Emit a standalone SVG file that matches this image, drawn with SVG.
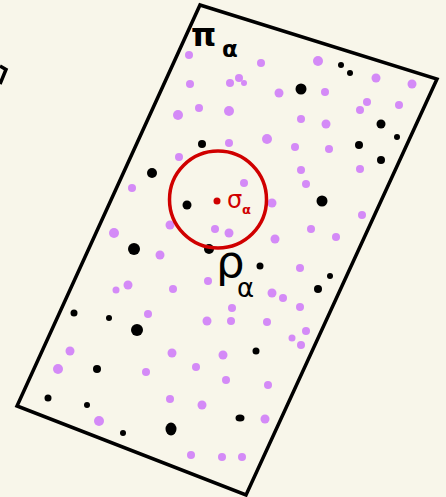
<svg xmlns="http://www.w3.org/2000/svg" width="446" height="497" viewBox="0 0 446 497">
<style>
.p{fill:#d48af7}
.b{fill:#000}
.edge{fill:none;stroke:#000;stroke-width:3.5;stroke-linejoin:miter}
.lbl{font-family:"DejaVu Sans",sans-serif;fill:#000}
.red{fill:#d00000}
</style>
<rect width="446" height="497" fill="#f8f6ea"/>
<g id="plane-other">
<polyline class="edge" points="0,66 6,69.5 0,84"/>
</g>
<g id="plane-pi">
<polygon class="edge" points="200,5 437,79 246,495 17,406"/>
<text class="lbl" x="191" y="46" font-size="32" font-weight="bold">π</text>
<text class="lbl" x="222" y="57" font-size="23" font-weight="bold">α</text>
</g>
<g id="purple-points">
<circle class="p" cx="189" cy="55" r="4"/>
<circle class="p" cx="190" cy="84" r="4"/>
<circle class="p" cx="199" cy="108" r="4"/>
<circle class="p" cx="178" cy="115" r="5"/>
<circle class="p" cx="179" cy="157" r="4"/>
<circle class="p" cx="261" cy="63" r="4"/>
<circle class="p" cx="318" cy="61" r="5"/>
<circle class="p" cx="376" cy="78" r="4.5"/>
<circle class="p" cx="412" cy="84" r="4.5"/>
<circle class="p" cx="230" cy="83" r="4"/>
<circle class="p" cx="239" cy="78" r="4"/>
<circle class="p" cx="244" cy="83" r="3"/>
<circle class="p" cx="279" cy="93" r="4.5"/>
<circle class="p" cx="325" cy="92" r="4"/>
<circle class="p" cx="367" cy="102" r="4"/>
<circle class="p" cx="360" cy="110" r="4"/>
<circle class="p" cx="399" cy="105" r="4"/>
<circle class="p" cx="229" cy="111" r="5"/>
<circle class="p" cx="301" cy="119" r="4"/>
<circle class="p" cx="326" cy="124" r="4.5"/>
<circle class="p" cx="229" cy="143" r="4"/>
<circle class="p" cx="267" cy="139" r="5"/>
<circle class="p" cx="295" cy="147" r="4"/>
<circle class="p" cx="329" cy="149" r="4"/>
<circle class="p" cx="132" cy="188" r="4"/>
<circle class="p" cx="170" cy="225" r="4.5"/>
<circle class="p" cx="215" cy="229" r="4"/>
<circle class="p" cx="114" cy="233" r="5"/>
<circle class="p" cx="160" cy="255" r="4.5"/>
<circle class="p" cx="208" cy="281" r="4"/>
<circle class="p" cx="116" cy="290" r="3.5"/>
<circle class="p" cx="128" cy="285" r="4.5"/>
<circle class="p" cx="173" cy="289" r="4"/>
<circle class="p" cx="148" cy="314" r="4"/>
<circle class="p" cx="207" cy="321" r="4.5"/>
<circle class="p" cx="301" cy="170" r="4"/>
<circle class="p" cx="360" cy="169" r="4"/>
<circle class="p" cx="244" cy="183" r="4"/>
<circle class="p" cx="306" cy="184" r="4"/>
<circle class="p" cx="272" cy="203" r="4.5"/>
<circle class="p" cx="362" cy="215" r="4"/>
<circle class="p" cx="229" cy="233" r="4.5"/>
<circle class="p" cx="311" cy="229" r="4"/>
<circle class="p" cx="275" cy="239" r="4.5"/>
<circle class="p" cx="336" cy="237" r="4"/>
<circle class="p" cx="300" cy="268" r="4"/>
<circle class="p" cx="272" cy="293" r="4.5"/>
<circle class="p" cx="283" cy="298" r="4"/>
<circle class="p" cx="232" cy="308" r="4"/>
<circle class="p" cx="300" cy="307" r="4"/>
<circle class="p" cx="231" cy="321" r="4"/>
<circle class="p" cx="267" cy="322" r="4"/>
<circle class="p" cx="306" cy="331" r="4"/>
<circle class="p" cx="292" cy="338" r="3.5"/>
<circle class="p" cx="301" cy="345" r="4"/>
<circle class="p" cx="70" cy="351" r="4.5"/>
<circle class="p" cx="172" cy="353" r="4.5"/>
<circle class="p" cx="223" cy="355" r="4.5"/>
<circle class="p" cx="58" cy="369" r="5"/>
<circle class="p" cx="146" cy="372" r="4"/>
<circle class="p" cx="196" cy="367" r="4"/>
<circle class="p" cx="170" cy="399" r="4"/>
<circle class="p" cx="202" cy="405" r="4.5"/>
<circle class="p" cx="99" cy="421" r="5"/>
<circle class="p" cx="191" cy="455" r="4"/>
<circle class="p" cx="222" cy="457" r="4"/>
<circle class="p" cx="226" cy="380" r="4"/>
<circle class="p" cx="268" cy="385" r="4"/>
<circle class="p" cx="265" cy="419" r="4.5"/>
<circle class="p" cx="242" cy="457" r="4"/>
</g>
<g id="black-points">
<circle class="b" cx="202" cy="144" r="4"/>
<circle class="b" cx="341" cy="65" r="3"/>
<circle class="b" cx="350" cy="73" r="3"/>
<circle class="b" cx="301" cy="89" r="5.5"/>
<circle class="b" cx="381" cy="124" r="4.5"/>
<circle class="b" cx="397" cy="137" r="3"/>
<circle class="b" cx="359" cy="145" r="4"/>
<circle class="b" cx="381" cy="160" r="4"/>
<circle class="b" cx="152" cy="173" r="5"/>
<circle class="b" cx="187" cy="205" r="4.5"/>
<circle class="b" cx="134" cy="249" r="6"/>
<circle class="b" cx="209" cy="249" r="5"/>
<circle class="b" cx="74" cy="313" r="3.5"/>
<circle class="b" cx="109" cy="318" r="3"/>
<circle class="b" cx="137" cy="330" r="6"/>
<circle class="b" cx="322" cy="201" r="5.5"/>
<circle class="b" cx="260" cy="266" r="3.5"/>
<circle class="b" cx="330" cy="276" r="3"/>
<circle class="b" cx="318" cy="289" r="4"/>
<circle class="b" cx="97" cy="369" r="4"/>
<circle class="b" cx="48" cy="398" r="3.5"/>
<circle class="b" cx="87" cy="405" r="3"/>
<circle class="b" cx="123" cy="433" r="3"/>
<ellipse class="b" cx="171" cy="429" rx="5.5" ry="6.5"/>
<circle class="b" cx="256" cy="351" r="3.5"/>
<ellipse class="b" cx="240" cy="418" rx="4.5" ry="3.5"/>
</g>
<g id="neighbourhood">
<circle cx="218" cy="199.5" r="48.5" fill="none" stroke="#d00000" stroke-width="3.5"/>
<circle class="red" cx="217" cy="201" r="3.5"/>
<text class="red" x="227" y="208" font-family="DejaVu Sans,sans-serif" font-size="24">σ</text>
<text class="red" x="242" y="214" font-family="DejaVu Sans,sans-serif" font-size="13" font-weight="bold">α</text>
</g>
<g id="rho-label">
<text class="lbl" x="216" y="277" font-size="45">ρ</text>
<text class="lbl" x="237" y="297" font-size="26">α</text>
</g>
</svg>
